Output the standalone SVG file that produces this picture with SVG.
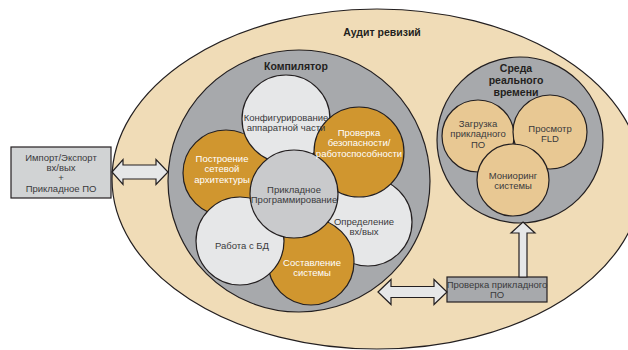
<svg xmlns="http://www.w3.org/2000/svg" width="628" height="350" viewBox="0 0 628 350">
<style>
.o{stroke:#231f20;stroke-width:1.2}
.tan{fill:#f0dcb7}
.gr{fill:#a7a9ac}
.lt{fill:#e6e7e8}
.md{fill:#c9cacc}
.gd{fill:#d0962f}
.bg{fill:#e8c893}
.bx{fill:#d1d3d4}
text{font-family:"Liberation Sans",Arial,sans-serif;text-anchor:middle}
.t{font-size:9.5px;fill:#3a3a3c}
.w{font-size:9.5px;fill:#ffffff}
.h{font-size:10.5px;font-weight:bold;fill:#231f20}
.ar{fill:#e6e7e8;stroke:#231f20;stroke-width:1.2;stroke-linejoin:miter}
</style>
<g id="audit">
<ellipse class="o tan" cx="377" cy="179" rx="265" ry="170"/>
<text class="h" x="382" y="36">Аудит ревизий</text>
</g>
<g id="compiler">
<circle class="o gr" cx="299" cy="181" r="131"/>
<text class="h" x="296" y="70">Компилятор</text>
</g>
<g id="network">
<circle class="o gd" cx="226" cy="173" r="43"/>
</g>
<g id="hwconfig">
<circle class="o lt" cx="286" cy="119" r="44"/>
</g>
<g id="io">
<circle class="o lt" cx="368" cy="222" r="44"/>
</g>
<g id="safety">
<circle class="o gd" cx="359" cy="152" r="45"/>
</g>
<g id="system">
<circle class="o gd" cx="311" cy="262" r="43"/>
</g>
<g id="db">
<circle class="o lt" cx="240" cy="241" r="44"/>
</g>
<g id="appprog">
<circle class="o md" cx="294" cy="194" r="44"/>
</g>
<g id="labels">
<text class="t" x="286" y="120.5">Конфигурирование</text>
<text class="t" x="286" y="130.5">аппаратной части</text>
<text class="w" x="359" y="135.5">Проверка</text>
<text class="w" x="359" y="146">безопасности/</text>
<text class="w" x="359" y="156.5">работоспособности</text>
<text class="w" x="222" y="161.5">Построение</text>
<text class="w" x="222" y="172">сетевой</text>
<text class="w" x="222" y="182.5">архитектуры</text>
<text class="t" x="294" y="192.5">Прикладное</text>
<text class="t" x="294" y="203">Программирование</text>
<text class="t" x="242" y="248.5">Работа с БД</text>
<text class="t" x="364" y="224.5">Определение</text>
<text class="t" x="364" y="235">вх/вых</text>
<text class="w" x="312" y="265.5">Составление</text>
<text class="w" x="312" y="276">системы</text>
</g>
<g id="runtime">
<circle class="o gr" cx="520" cy="140" r="83"/>
<text class="h" x="516" y="72">Среда</text>
<text class="h" x="516" y="84">реального</text>
<text class="h" x="516" y="95.5">времени</text>
</g>
<g id="load">
<circle class="o bg" cx="478" cy="136" r="36"/>
<text class="t" x="478" y="126.5">Загрузка</text>
<text class="t" x="478" y="137">прикладного</text>
<text class="t" x="478" y="147.5">ПО</text>
</g>
<g id="fld">
<circle class="o bg" cx="550" cy="132" r="37"/>
<text class="t" x="550" y="131.5">Просмотр</text>
<text class="t" x="550" y="141.5">FLD</text>
</g>
<g id="monitor">
<circle class="o bg" cx="513" cy="180" r="36"/>
<text class="t" x="513" y="178.5">Мониоринг</text>
<text class="t" x="513" y="188.5">системы</text>
</g>
<g id="importbox">
<rect class="o bx" x="11" y="147" width="100" height="51"/>
<text class="t" x="61" y="160.5">Импорт/Экспорт</text>
<text class="t" x="61" y="170.5">вх/вых</text>
<text class="t" x="61" y="181">+</text>
<text class="t" x="61" y="191.5">Прикладное ПО</text>
</g>
<g id="checkbox">
<rect class="o gr" x="447" y="277" width="100" height="25"/>
<text class="t" x="497" y="287.5">Проверка прикладного</text>
<text class="t" x="497" y="297.5">ПО</text>
</g>
<g id="connectors">
<polygon class="ar" points="112,172 123,159.5 123,165 156,165 156,159.5 168,172 156,184.5 156,179 123,179 123,184.5"/>
<polygon class="ar" points="378,292 391,279.5 391,286.5 434,286.5 434,279.5 447,292 434,304.5 434,297.5 391,297.5 391,304.5"/>
<polygon class="ar" points="523,222 535,233 527,233 527,277 519,277 519,233 511,233"/>
</g>
</svg>
